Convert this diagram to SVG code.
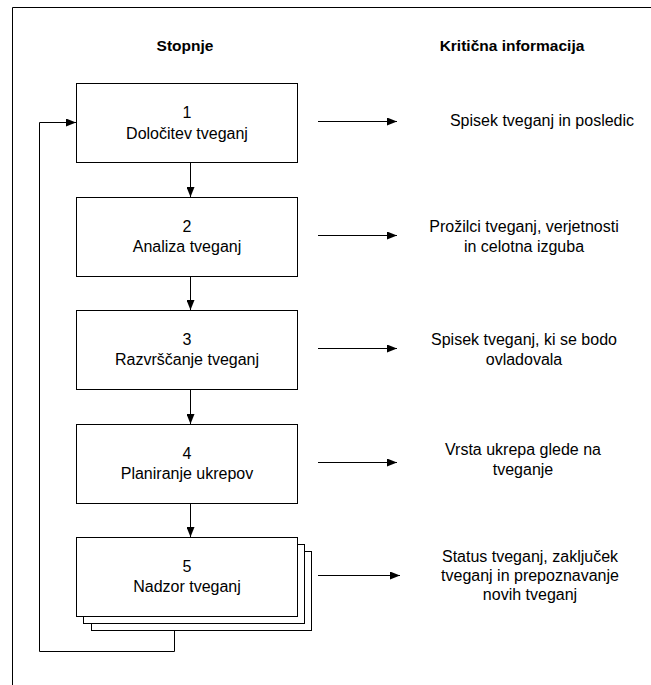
<svg xmlns="http://www.w3.org/2000/svg" width="651" height="685" viewBox="0 0 651 685">
  <defs>
    <marker id="arrow" viewBox="0 0 10 8" refX="10" refY="4" markerWidth="10" markerHeight="8" markerUnits="userSpaceOnUse" orient="auto">
      <path d="M0,0 L10,4 L0,8 Z" fill="#000"/>
    </marker>
    <style>
      .box { fill: #fff; stroke: #000; stroke-width: 1; }
      .line { fill: none; stroke: #000; stroke-width: 1; }
      .arr { fill: none; stroke: #000; stroke-width: 1; marker-end: url(#arrow); }
      text { font-family: "Liberation Sans", Arial, sans-serif; font-size: 16px; fill: #000; text-anchor: middle; }
      .head { font-weight: bold; font-size: 15.5px; }
    </style>
  </defs>
  <rect width="651" height="685" fill="#fff"/>

  <!-- page frame -->
  <path class="line" d="M12.5,685 V7.5 H651"/>

  <!-- column headings -->
  <text class="head" x="185" y="51">Stopnje</text>
  <text class="head" x="512" y="51">Kritična informacija</text>

  <!-- stages -->
  <g id="stage1">
    <rect class="box" x="76.5" y="83.5" width="221" height="79"/>
    <text x="187" y="118">1</text>
    <text x="187" y="139">Določitev tveganj</text>
  </g>
  <g id="stage2">
    <rect class="box" x="76.5" y="197.5" width="221" height="79"/>
    <text x="187" y="232">2</text>
    <text x="187" y="252">Analiza tveganj</text>
  </g>
  <g id="stage3">
    <rect class="box" x="76.5" y="310.5" width="221" height="79"/>
    <text x="187" y="345">3</text>
    <text x="187" y="365">Razvrščanje tveganj</text>
  </g>
  <g id="stage4">
    <rect class="box" x="76.5" y="424.5" width="221" height="79"/>
    <text x="187" y="459">4</text>
    <text x="187" y="479">Planiranje ukrepov</text>
  </g>
  <g id="stage5">
    <rect class="box" x="91.5" y="551.5" width="220" height="79"/>
    <rect class="box" x="83.5" y="544.5" width="221" height="79"/>
    <rect class="box" x="76.5" y="537.5" width="221" height="79"/>
    <text x="187" y="572">5</text>
    <text x="187" y="592">Nadzor tveganj</text>
  </g>

  <!-- critical information -->
  <g id="info1">
    <text x="542" y="126">Spisek tveganj in posledic</text>
  </g>
  <g id="info2">
    <text x="524" y="232">Prožilci tveganj, verjetnosti</text>
    <text x="524" y="252">in celotna izguba</text>
  </g>
  <g id="info3">
    <text x="524" y="345">Spisek tveganj, ki se bodo</text>
    <text x="524" y="365">ovladovala</text>
  </g>
  <g id="info4">
    <text x="523" y="455">Vrsta ukrepa glede na</text>
    <text x="523" y="475">tveganje</text>
  </g>
  <g id="info5">
    <text x="530" y="562">Status tveganj, zaključek</text>
    <text x="530" y="581">tveganj in prepoznavanje</text>
    <text x="530" y="600">novih tveganj</text>
  </g>

  <!-- connectors -->
  <g id="connectors">
    <path class="arr" d="M190.5,162.5 V197"/>
    <path class="arr" d="M190.5,276.5 V310"/>
    <path class="arr" d="M190.5,389.5 V424"/>
    <path class="arr" d="M190.5,503.5 V537"/>
    <path class="arr" d="M318,121.5 H397"/>
    <path class="arr" d="M318,235.5 H397"/>
    <path class="arr" d="M318,348.5 H397"/>
    <path class="arr" d="M318,462.5 H397"/>
    <path class="arr" d="M318,575.5 H400"/>
    <!-- feedback loop back to the first stage -->
    <path class="arr" d="M174.5,630.5 V651.5 H39.5 V122.5 H76"/>
  </g>
</svg>
